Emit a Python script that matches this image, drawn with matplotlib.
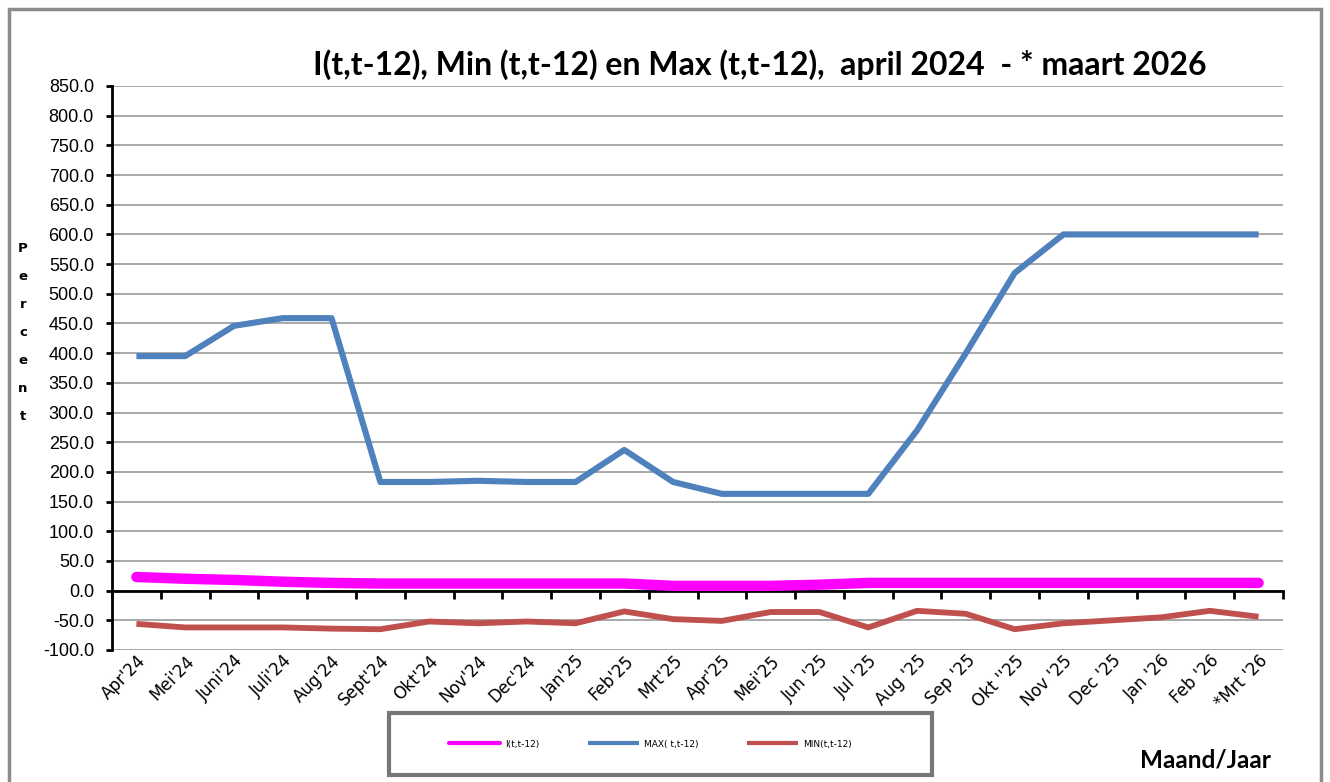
import matplotlib
matplotlib.use("Agg")
import matplotlib.pyplot as plt
from matplotlib.patches import Rectangle
from matplotlib.ticker import FixedLocator, FormatStrFormatter

months = ["Apr'24", "Mei'24", "Juni'24", "Juli'24", "Aug'24", "Sept'24", "Okt'24",
          "Nov'24", "Dec'24", "Jan'25", "Feb'25", "Mrt'25", "Apr'25", "Mei'25",
          "Jun '25", "Jul '25", "Aug '25", "Sep '25", "Okt ''25", "Nov '25",
          "Dec '25", "Jan '26", "Feb '26", "*Mrt '26"]

i_vals = [23, 20, 18, 15, 13, 12, 12, 12, 12, 12, 12, 8, 8, 8,
          10, 13, 13, 13, 13, 13, 13, 13, 13, 13]
max_vals = [395, 395, 446, 459, 459, 183, 183, 185, 183, 183, 237, 183, 163, 163,
            163, 163, 270, 400, 535, 600, 600, 600, 600, 600]
min_vals = [-56, -62, -62, -62, -64, -65, -52, -55, -52, -55, -35, -48, -51, -36,
            -36, -62, -34, -39, -65, -55, -50, -45, -34, -44]

x = list(range(len(months)))

fig = plt.figure(figsize=(13.3, 7.82), dpi=100)
ax = fig.add_axes([112 / 1330, 1 - 650 / 782, (1283 - 112) / 1330, (650 - 86) / 782])

ax.plot(x, max_vals, color="#4F81BD", lw=4.4, solid_capstyle="butt", zorder=3)
ax.plot(x, min_vals, color="#C0504D", lw=4.2, solid_capstyle="butt", zorder=3)
ax.plot(x, i_vals, color="#FF00FF", lw=7.5, solid_capstyle="round", zorder=4)

ax.set_xlim(-0.5, len(months) - 0.5)
ax.set_ylim(-100, 850)
ax.yaxis.set_major_locator(FixedLocator(range(-100, 851, 50)))
ax.yaxis.set_major_formatter(FormatStrFormatter("%.1f"))
ax.grid(axis="y", color="#999999", lw=1.2)
ax.set_axisbelow(True)

for s in ["top", "right"]:
    ax.spines[s].set_visible(False)
ax.spines["left"].set_linewidth(2)
ax.spines["bottom"].set_position(("data", 0))
ax.spines["bottom"].set_linewidth(2)
ax.spines["bottom"].set_zorder(2)

ax.set_xticks(x)
ax.set_xticklabels(months, rotation=45, ha="right", rotation_mode="anchor",
                   family="DejaVu Sans", fontsize=12)
ax.set_xticks([i - 0.5 for i in range(len(months) + 1)], minor=True)
ax.tick_params(axis="x", which="major", length=0, pad=44)
ax.tick_params(axis="x", which="minor", length=6, width=2, direction="out")
ax.tick_params(axis="y", length=4, width=2, direction="out", pad=9)
for t in ax.get_yticklabels():
    t.set_family("Liberation Sans")
    t.set_fontsize(13)

fig.text(760 / 1330, 1 - 65 / 782,
         "I(t,t-12), Min (t,t-12) en Max (t,t-12),  april 2024  - * maart 2026",
         ha="center", va="center", family="Lato", weight="bold", fontsize=23)

fig.text(23 / 1330, 1 - 333 / 782, "\n".join("Percent"), ha="center", va="center",
         fontsize=9.5, weight="bold", linespacing=2.5)

fig.text(1271 / 1330, 1 - 760 / 782, "Maand/Jaar", ha="right", va="center",
         family="Lato", weight="bold", fontsize=17.5)

# outer frame
fig.patches.append(Rectangle((9 / 1330, -0.05), (1321 - 9) / 1330, 1.05 - 9 / 782,
                             transform=fig.transFigure, fill=False,
                             edgecolor="#8c8c8c", lw=2.5))

# legend box
fig.patches.append(Rectangle((389 / 1330, 1 - 775 / 782), (932 - 389) / 1330, 62 / 782,
                             transform=fig.transFigure, fill=False,
                             edgecolor="#777777", lw=3, zorder=5))

handles = ax.get_lines()
leg = fig.legend([handles[2], handles[0], handles[1]],
                 ["I(t,t-12)", "MAX( t,t-12)", "MIN(t,t-12)"],
                 loc="center left", bbox_to_anchor=(440 / 1330, 1 - 744 / 782),
                 ncol=3, fontsize=6.5, handlelength=5.6, handletextpad=0.6,
                 columnspacing=5.4, borderpad=0.5, frameon=False)
for h in leg.legend_handles:
    h.set_linewidth(3)
leg.set_zorder(6)

fig.savefig("out.png", dpi=100)
